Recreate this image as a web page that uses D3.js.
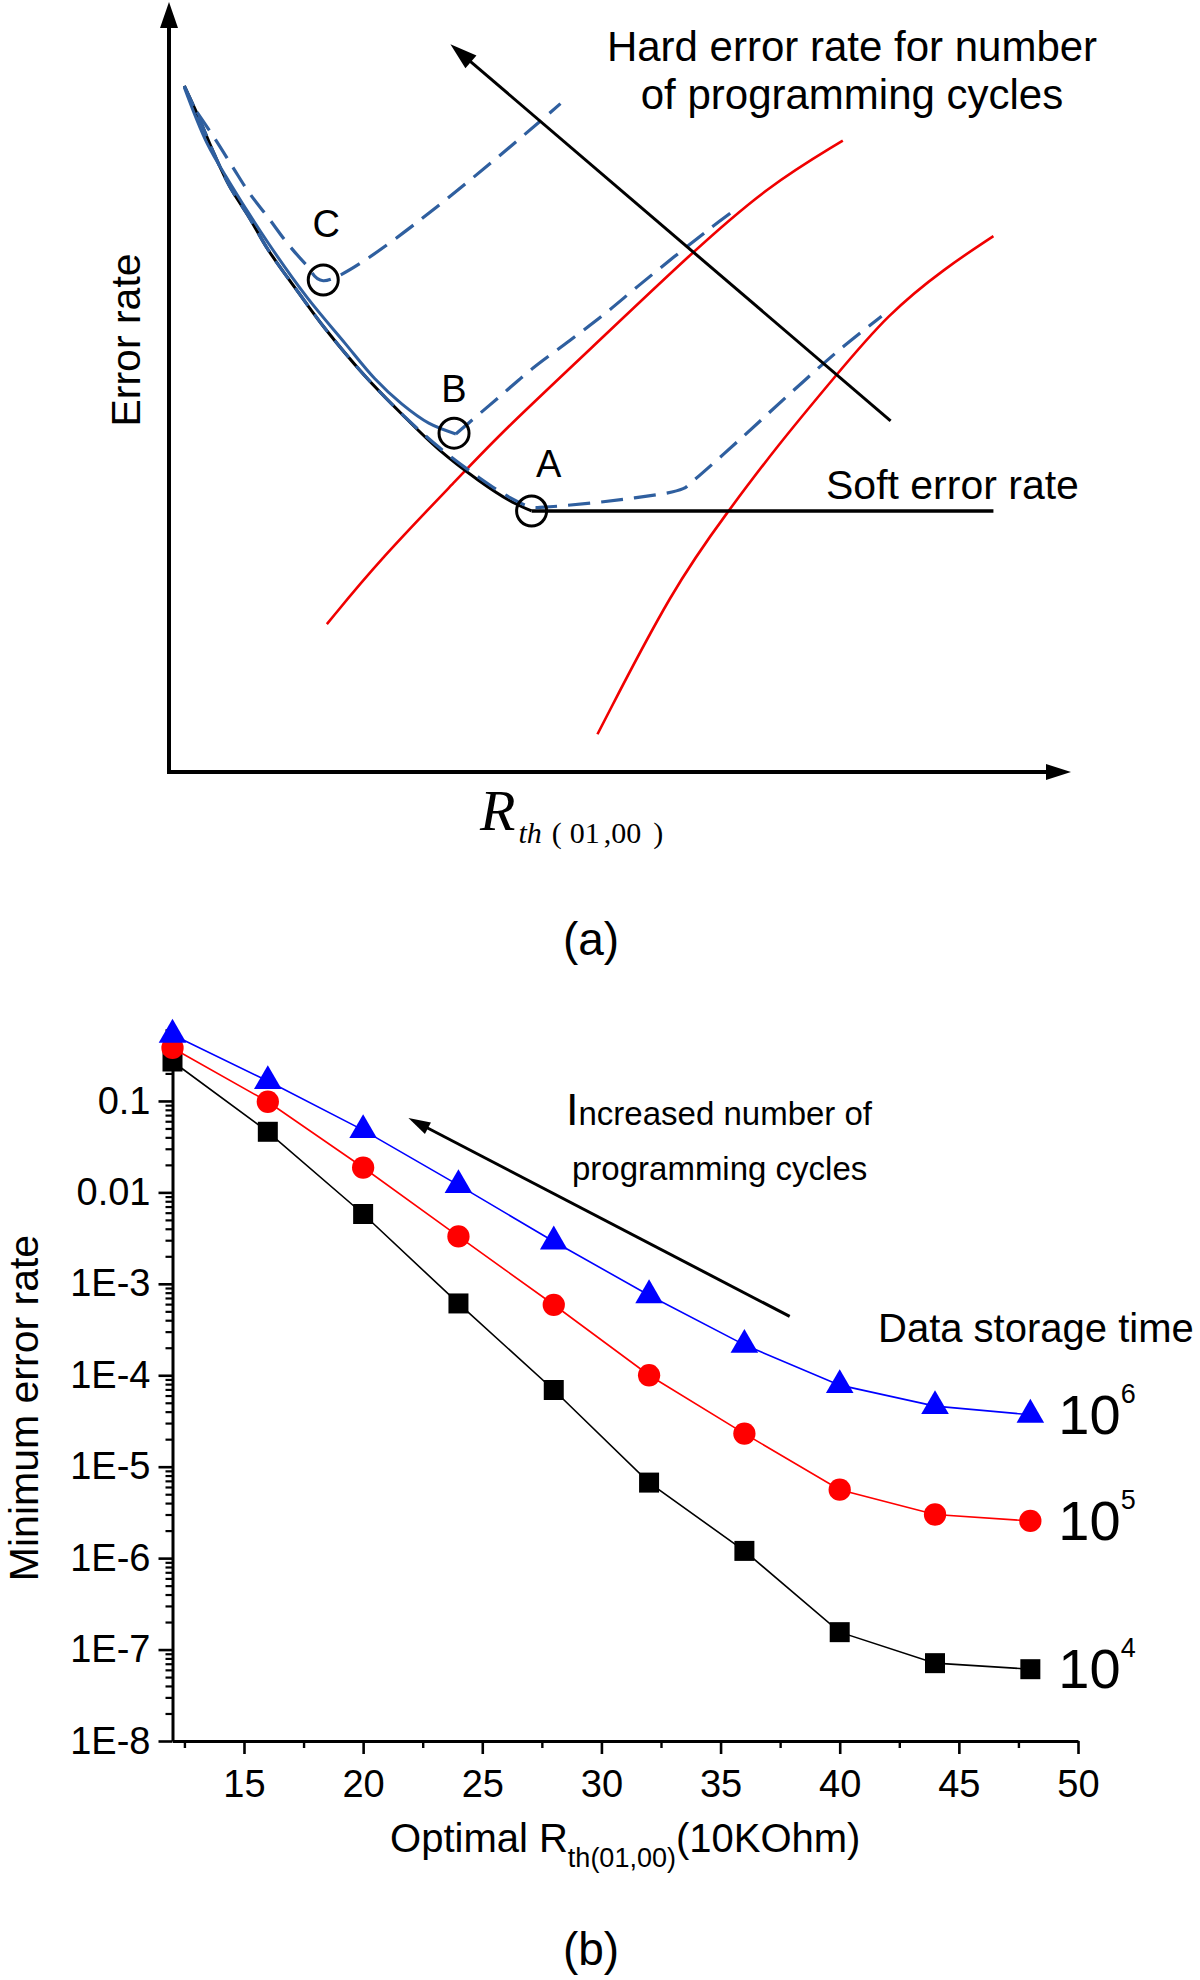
<!DOCTYPE html>
<html><head><meta charset="utf-8">
<script src="https://cdn.jsdelivr.net/npm/d3@7"></script>
<style>body{margin:0;background:#fff}svg{display:block}</style>
</head><body>
<svg id="c" width="1200" height="1980"></svg>
<script>
// ---------- Panel (a): schematic, arbitrary units (0-100) ----------
const softCurve = [[1.7,89.1],[3.3,85.0],[5.0,80.3],[6.7,76.1],[8.9,72.0],[11.0,67.8],[14.4,62.2],[17.3,57.6],[21.6,51.6],[25.8,46.5],[30.0,41.8],[34.3,37.9],[37.7,35.3],[40.2,33.9]];
const softFloorEnd = 91.4;
const totalA = [[1.7,89.1],[3.3,85.0],[5.0,80.3],[6.7,76.1],[8.9,72.0],[11.0,67.8],[14.4,62.2],[17.3,57.6],[21.6,51.6],[25.8,46.5],[30.0,42.1],[34.3,38.3],[37.7,35.7],[40.2,34.4],[41.6,34.4],[51.6,35.6],[57.0,36.8],[58.0,37.7],[63.4,43.3],[68.9,49.2],[74.3,54.8],[79.0,59.2]];
const totalBSolid = [[1.7,88.9],[4.2,81.7],[6.7,76.6],[11.0,68.7],[15.2,61.8],[19.5,55.7],[22.8,51.1],[25.8,47.8],[28.8,45.3],[31.8,43.9]];
const totalBDashed = [[31.8,43.9],[33.2,45.3],[36.7,48.8],[40.4,52.5],[44.4,56.0],[48.3,59.5],[52.0,63.1],[56.0,66.9],[60.0,70.6],[62.6,72.9]];
const totalC = [[3.1,85.7],[5.0,82.4],[7.1,78.5],[8.9,75.2],[11.0,72.0],[13.1,68.7],[15.2,65.9],[17.1,63.8],[43.4,86.8]];
const hardLow = [[17.5,19.2],[23.3,27.5],[32.6,38.8],[36.7,43.9],[46.6,54.8],[58.0,67.5],[66.4,76.1],[74.7,82.0]];
const hardHigh = [[47.5,4.9],[55.9,24.0],[62.0,33.9],[67.4,42.3],[73.8,51.3],[79.7,59.5],[86.1,65.5],[91.4,69.6]];
const cyclesArrow = [[80.0,45.6],[31.2,94.5]];
const optimaLabels = ["A","B","C"];
const optimaPts = [[40.2,33.9],[31.6,44.0],[17.1,63.9]];

// ---------- Panel (b): data ----------
const rth = [12,16,20,24,28,32,36,40,44,48];
const err1e4 = [0.27,0.046,5.8e-3,6.1e-4,6.9e-5,6.7e-6,1.2e-6,1.55e-7,7.1e-8,6.1e-8];
const err1e5 = [0.38,0.098,0.0187,3.3e-3,5.9e-4,1.0e-4,2.3e-5,5.6e-6,3.0e-6,2.55e-6];
const err1e6 = [0.53,0.165,0.048,0.012,2.9e-3,7.5e-4,2.15e-4,7.8e-5,4.6e-5,3.7e-5];
const storageExp = ["4","5","6"];
const xTickVals = [15,20,25,30,35,40,45,50];
const xMinorVals = [12.5,17.5,22.5,27.5,32.5,37.5,42.5,47.5];
const yTickVals = [1e-8,1e-7,1e-6,1e-5,1e-4,1e-3,1e-2,1e-1];
const yTickLabels = ["1E-8","1E-7","1E-6","1E-5","1E-4","1E-3","0.01","0.1"];
const bArrow = [[37.9,4.4e-4],[21.9,0.065]];

const SANS = "'Liberation Sans', Arial, Helvetica, sans-serif";
const SERIF = "'Liberation Serif', 'Times New Roman', serif";
const svg = d3.select("#c");

function arrow(g, x1, y1, x2, y2, sw, hl, hw, color) {
  const dx = x2 - x1, dy = y2 - y1, L = Math.hypot(dx, dy);
  const ux = dx / L, uy = dy / L, px = -uy, py = ux;
  const bx = x2 - ux * hl, by = y2 - uy * hl;
  g.append("line").attr("x1", x1).attr("y1", y1).attr("x2", bx + ux * 2).attr("y2", by + uy * 2)
    .attr("stroke", color).attr("stroke-width", sw);
  g.append("path").attr("d", `M${x2},${y2}L${bx + px * hw / 2},${by + py * hw / 2}L${bx - px * hw / 2},${by - py * hw / 2}Z`)
    .attr("fill", color);
}

// ================= Panel (a) =================
const xA = d3.scaleLinear().domain([0, 100]).range([169, 1071]);
const yA = d3.scaleLinear().domain([0, 100]).range([772, 2]);
const gA = svg.append("g");
const lineA = d3.line().x(d => xA(d[0])).y(d => yA(d[1])).curve(d3.curveCatmullRom.alpha(0.5));
const lineSmooth = d3.line().x(d => xA(d[0])).y(d => yA(d[1])).curve(d3.curveBasis);
const BLUE = "#2f5f9f";

// axes
arrow(gA, xA(0), yA(0) + 2, xA(0), yA(100), 4, 26, 18, "#000");
arrow(gA, xA(0) - 2, yA(0), xA(100), yA(0), 4, 25, 16, "#000");

// hard error curves
[hardLow, hardHigh].forEach(d => gA.append("path").attr("d", lineSmooth(d)).attr("fill", "none")
  .attr("stroke", "#f00000").attr("stroke-width", 2.6));

// soft error curve
gA.append("path").attr("d", lineA(softCurve)).attr("fill", "none").attr("stroke", "#000").attr("stroke-width", 3);
const last = softCurve[softCurve.length - 1];
gA.append("line").attr("x1", xA(last[0])).attr("y1", yA(last[1])).attr("x2", xA(softFloorEnd)).attr("y2", yA(last[1]))
  .attr("stroke", "#000").attr("stroke-width", 3.5);

// total error curves
gA.append("path").attr("d", lineA(totalBSolid)).attr("fill", "none").attr("stroke", BLUE).attr("stroke-width", 3);
[totalA, totalBDashed, totalC].forEach(d => gA.append("path").attr("d", lineA(d)).attr("fill", "none")
  .attr("stroke", BLUE).attr("stroke-width", 3.2).attr("stroke-dasharray", "22,11"));

// optimum circles
const labelOffsets = [[17, -34], [0, -31], [3, -43]];
optimaPts.forEach((p, i) => {
  gA.append("circle").attr("cx", xA(p[0])).attr("cy", yA(p[1])).attr("r", 15)
    .attr("fill", "none").attr("stroke", "#000").attr("stroke-width", 3);
  gA.append("text").attr("x", xA(p[0]) + labelOffsets[i][0]).attr("y", yA(p[1]) + labelOffsets[i][1])
    .attr("text-anchor", "middle").attr("font-family", SANS).attr("font-size", 38).text(optimaLabels[i]);
});

// cycles arrow
arrow(gA, xA(cyclesArrow[0][0]), yA(cyclesArrow[0][1]), xA(cyclesArrow[1][0]), yA(cyclesArrow[1][1]), 3, 27, 17, "#000");

// texts (a)
gA.append("text").attr("x", 852).attr("y", 61).attr("text-anchor", "middle").attr("font-family", SANS)
  .attr("font-size", 42).text("Hard error rate for number");
gA.append("text").attr("x", 852).attr("y", 109).attr("text-anchor", "middle").attr("font-family", SANS)
  .attr("font-size", 42).text("of programming cycles");
gA.append("text").attr("x", 826).attr("y", 499).attr("font-family", SANS).attr("font-size", 41).text("Soft error rate");
gA.append("text").attr("transform", "translate(140,340) rotate(-90)").attr("text-anchor", "middle")
  .attr("font-family", SANS).attr("font-size", 41).text("Error rate");
const rl = gA.append("text").attr("x", 480).attr("y", 830).attr("font-family", SERIF);
rl.append("tspan").attr("font-size", 58).attr("font-style", "italic").text("R");
rl.append("tspan").attr("font-size", 30).attr("font-style", "italic").attr("dy", 13).attr("dx", 3).text("th");
rl.append("tspan").attr("font-size", 30).attr("dx", 10).text("(");
rl.append("tspan").attr("font-size", 30).attr("dx", 8).text("01");
rl.append("tspan").attr("font-size", 30).attr("dx", 4).text(",00");
rl.append("tspan").attr("font-size", 30).attr("dx", 12).text(")");
svg.append("text").attr("x", 591).attr("y", 955).attr("text-anchor", "middle").attr("font-family", SANS)
  .attr("font-size", 46).text("(a)");

// ================= Panel (b) =================
const xB = d3.scaleLinear().domain([12, 50]).range([172.5, 1078]);
const yB = d3.scaleLog().domain([1e-8, 0.6]).range([1741, 1029.8]);
const gB = svg.append("g");

// minor y ticks
const yMinor = [];
for (let e = -8; e <= -1; e++) for (let m = 2; m <= 9; m++) { const v = m * Math.pow(10, e); if (v <= 0.6 + 1e-9) yMinor.push(v); }
gB.append("g").attr("transform", `translate(${xB(12)},0)`)
  .call(d3.axisLeft(yB).tickValues(yMinor).tickSize(7).tickFormat(""))
  .call(g => g.select(".domain").remove())
  .selectAll("line").attr("stroke-width", 2.2);
// major y ticks
const yAx = gB.append("g").attr("transform", `translate(${xB(12)},0)`)
  .call(d3.axisLeft(yB).tickValues(yTickVals).tickSize(14).tickSizeOuter(0).tickPadding(8)
    .tickFormat((d, i) => yTickLabels[i]));
yAx.select(".domain").attr("stroke-width", 3);
yAx.selectAll("line").attr("stroke-width", 2.6);
yAx.selectAll("text").attr("font-family", SANS).attr("font-size", 38).attr("fill", "#000");

// x axis
gB.append("g").attr("transform", `translate(0,${yB(1e-8)})`)
  .call(d3.axisBottom(xB).tickValues(xMinorVals).tickSize(7).tickFormat(""))
  .call(g => g.select(".domain").remove())
  .selectAll("line").attr("stroke-width", 2.4);
const xAx = gB.append("g").attr("transform", `translate(0,${yB(1e-8)})`)
  .call(d3.axisBottom(xB).tickValues(xTickVals).tickSize(13).tickSizeOuter(0).tickPadding(16));
xAx.select(".domain").attr("stroke-width", 3);
xAx.selectAll("line").attr("stroke-width", 2.6);
xAx.selectAll("text").attr("font-family", SANS).attr("font-size", 38).attr("fill", "#000");

// series
const lineB = d3.line().x(d => xB(d[0])).y(d => yB(d[1]));
const series = [
  {vals: err1e4, color: "#000000", sym: d3.symbolSquare, size: 400},
  {vals: err1e5, color: "#ff0000", sym: d3.symbolCircle, size: 390},
  {vals: err1e6, color: "#0000ff", sym: d3.symbolTriangle, size: 330}
];
series.forEach((s, k) => {
  const pts = rth.map((x, i) => [x, s.vals[i]]);
  gB.append("path").attr("d", lineB(pts)).attr("fill", "none").attr("stroke", s.color).attr("stroke-width", 1.6);
  gB.selectAll(null).data(pts).enter().append("path")
    .attr("transform", d => `translate(${xB(d[0])},${yB(d[1])})`)
    .attr("d", d3.symbol().type(s.sym).size(s.size)).attr("fill", s.color);
  const lp = pts[pts.length - 1];
  const t = gB.append("text").attr("x", xB(lp[0]) + 28).attr("y", yB(lp[1]) + 19).attr("font-family", SANS);
  t.append("tspan").attr("font-size", 56).text("10");
  t.append("tspan").attr("font-size", 27).attr("dy", -31).text(storageExp[k]);
});

// arrow (b)
arrow(gB, xB(bArrow[0][0]), yB(bArrow[0][1]), xB(bArrow[1][0]), yB(bArrow[1][1]), 3, 22, 13, "#000");

// texts (b)
const inc = gB.append("text").attr("x", 566).attr("y", 1125).attr("font-family", SANS);
inc.append("tspan").attr("font-size", 45).text("I");
inc.append("tspan").attr("font-size", 33).text("ncreased number of");
gB.append("text").attr("x", 572).attr("y", 1180).attr("font-family", SANS).attr("font-size", 33).text("programming cycles");
gB.append("text").attr("x", 878).attr("y", 1342).attr("font-family", SANS).attr("font-size", 40).text("Data storage time");
gB.append("text").attr("transform", "translate(38,1408) rotate(-90)").attr("text-anchor", "middle")
  .attr("font-family", SANS).attr("font-size", 41).text("Minimum error rate");
const xl = gB.append("text").attr("x", (xB(12) + xB(50)) / 2).attr("y", 1852).attr("text-anchor", "middle")
  .attr("font-family", SANS).attr("font-size", 40);
xl.append("tspan").text("Optimal R");
xl.append("tspan").attr("font-size", 27).attr("dy", 15).text("th(01,00)");
xl.append("tspan").attr("dy", -15).text("(10KOhm)");
svg.append("text").attr("x", 591).attr("y", 1965).attr("text-anchor", "middle").attr("font-family", SANS)
  .attr("font-size", 46).text("(b)");
</script>
</body></html>
